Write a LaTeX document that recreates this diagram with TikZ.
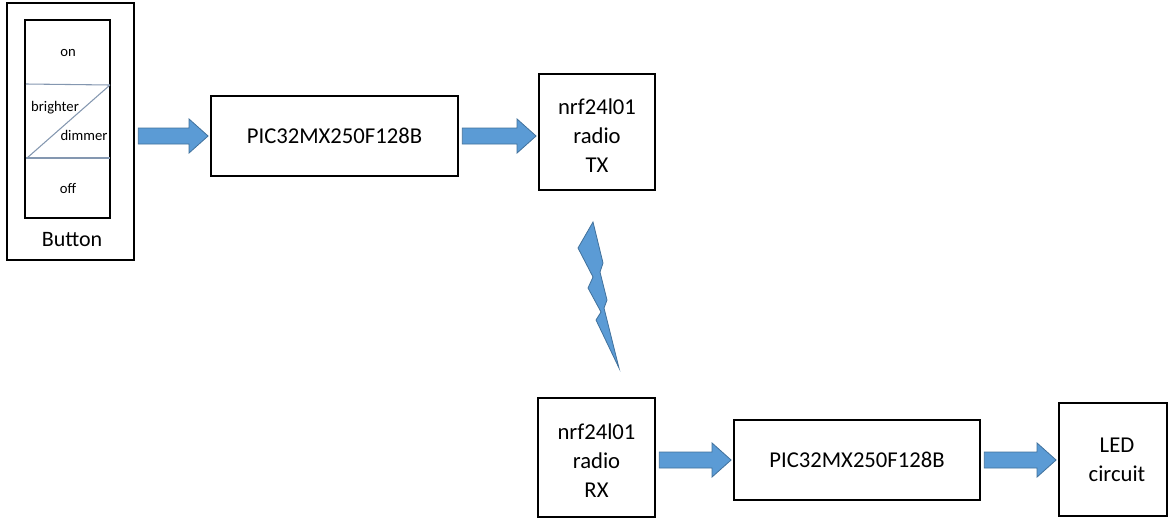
\documentclass[tikz,border=0pt]{standalone}
\usepackage{fontspec}
\setmainfont{Carlito}
\usetikzlibrary{calc}
\definecolor{arrfill}{HTML}{5B9BD5}
\definecolor{arrline}{HTML}{41719C}
\definecolor{divline}{HTML}{8497B0}

% block arrow from #1 to #2, at the height of #3
\newcommand{\fatarrow}[3]{%
  \draw[fat] let \p1=(#1.east), \p2=(#2.west), \p3=(#3.center) in
    (\x1+2.5pt,\y3+6pt) -- (\x2-15.75pt,\y3+6pt) -- (\x2-15.75pt,\y3+12.75pt)
    -- (\x2-1.5pt,\y3) -- (\x2-15.75pt,\y3-12.75pt) -- (\x2-15.75pt,\y3-6pt)
    -- (\x1+2.5pt,\y3-6pt) -- cycle;}

\begin{document}
\begin{tikzpicture}[x=0.75pt,y=-0.75pt]

\tikzstyle{bx} = [draw, line width=1.4pt, shape=rectangle, inner sep=0pt, align=center, font=\fontsize{17}{21.75}\selectfont]
\tikzstyle{txt} = [inner sep=0pt, align=center, font=\fontsize{17}{21.75}\selectfont]
\tikzstyle{fat} = [fill=arrfill, draw=arrline, line width=0.6pt]
\tikzstyle{lbl} = [inner sep=0pt, font=\fontsize{11}{13}\selectfont]
\tikzstyle{dv} = [draw=divline, line width=0.8pt]

\useasboundingbox (0,0) rectangle (1169,518);
\clip (0,0) rectangle (1169,518);

% button
\node[bx, minimum width=95.25pt, minimum height=192.75pt] (btn) at (70.5,131.5) {};
\node[bx, line width=1.6pt, minimum width=63.75pt, minimum height=148.5pt] (sw) at (67.5,119) {};
\draw[dv] (26,84) -- (110,85);
\draw[dv] (26,158) -- (110,158);
\draw[dv] (27,158) -- (110,85);
\node[lbl] (on) at (68,53) {on};
\node[lbl] (brighter) at (55,108) {brighter};
\node[lbl] (dimmer) at (84,135) {dimmer};
\node[lbl] (off) at (68,188) {off};
\node[font=\fontsize{16.5}{20}\selectfont] (btnlbl) at (72,240) {Button};

% transmitter side
\node[bx, minimum width=185.25pt, minimum height=60pt] (pic1) at (334.5,136) {PIC32MX250F128B};
\node[bx, minimum width=87pt, minimum height=87pt] (tx) at (597,132) {};
\node[txt] (txtx) at (597,136) {nrf24l01\\radio\\TX};

% receiver side
\node[bx, minimum width=87.75pt, minimum height=89.25pt] (rx) at (596.5,457.5) {};
\node[txt] (txrx) at (596.5,461) {nrf24l01\\radio\\RX};
\node[bx, minimum width=184.5pt, minimum height=60pt] (pic2) at (857,460) {PIC32MX250F128B};
\node[bx, minimum width=81pt, minimum height=84.75pt] (led) at (1113,459.5) {};
\node[txt] (txled) at (1117,460) {LED\\circuit};

\fatarrow{btn}{pic1}{pic1}
\fatarrow{pic1}{tx}{pic1}
\fatarrow{rx}{pic2}{pic2}
\fatarrow{pic2}{led}{pic2}

% radio link
\filldraw[fat] (593,222) -- (603,263) -- (600,272) -- (607,300) -- (604,308)
  -- (619,368) -- (596,320) -- (601,312) -- (588,288) -- (593,277)
  -- (578,248) -- cycle;

\end{tikzpicture}
\end{document}
